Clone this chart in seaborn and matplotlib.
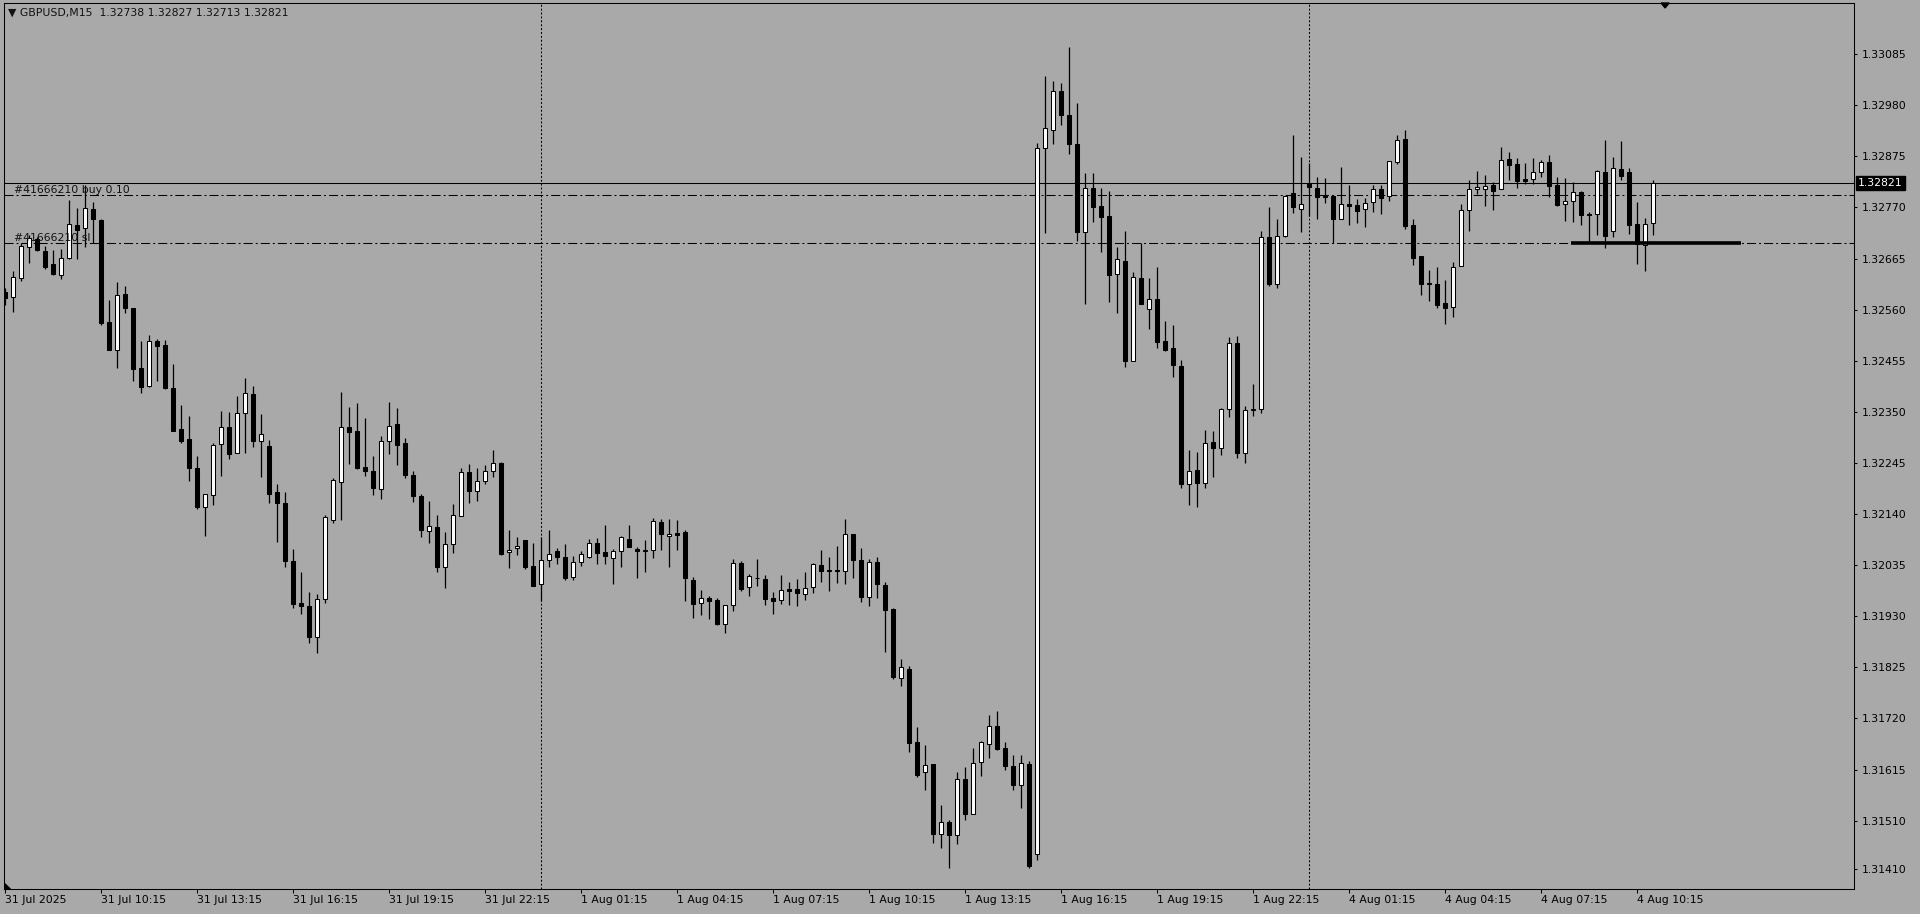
import numpy as np
import pandas as pd
import matplotlib
matplotlib.use("Agg")
import matplotlib.pyplot as plt
import matplotlib.transforms as mtransforms
import seaborn as sns

# GBPUSD M15 candles
opens = [
    1.32597, 1.32585, 1.32625, 1.32688, 1.32706, 1.32680, 1.32653, 1.32632, 1.32667, 1.32733,
    1.32727, 1.32766, 1.32745, 1.32534, 1.32478, 1.32592, 1.32563, 1.32439, 1.32404, 1.32495,
    1.32487, 1.32398, 1.32315, 1.32294, 1.32234, 1.32155, 1.32180, 1.32283, 1.32318, 1.32265,
    1.32347, 1.32387, 1.32291, 1.32280, 1.32185, 1.32162, 1.32043, 1.31957, 1.31951, 1.31887,
    1.31965, 1.32128, 1.32206, 1.32318, 1.32310, 1.32237, 1.32229, 1.32192, 1.32289, 1.32324,
    1.32286, 1.32220, 1.32177, 1.32106, 1.32113, 1.32032, 1.32078, 1.32135, 1.32226, 1.32188,
    1.32207, 1.32229, 1.32245, 1.32061, 1.32070, 1.32086, 1.32033, 1.31996, 1.32045, 1.32065,
    1.32051, 1.32010, 1.32041, 1.32052, 1.32080, 1.32061, 1.32049, 1.32063, 1.32088, 1.32068,
    1.32063, 1.32067, 1.32123, 1.32094, 1.32101, 1.32103, 1.32004, 1.31957, 1.31967, 1.31963,
    1.31915, 1.31954, 1.32039, 1.31991, 1.32009, 1.32006, 1.31967, 1.31963, 1.31986, 1.31986,
    1.31976, 1.31991, 1.32035, 1.32025, 1.32025, 1.32023, 1.32099, 1.32045, 1.31970, 1.32041,
    1.31994, 1.31945, 1.31804, 1.31821, 1.31671, 1.31609, 1.31626, 1.31482, 1.31507, 1.31480,
    1.31595, 1.31524, 1.31630, 1.31667, 1.31704, 1.31659, 1.31622, 1.31583, 1.31626, 1.31441,
    1.32892, 1.32930, 1.33010, 1.32960, 1.32900, 1.32720, 1.32810, 1.32772, 1.32752, 1.32634,
    1.32660, 1.32454, 1.32625, 1.32562, 1.32582, 1.32495, 1.32481, 1.32444, 1.32201, 1.32231,
    1.32204, 1.32287, 1.32275, 1.32355, 1.32491, 1.32265, 1.32354, 1.32355, 1.32709, 1.32613,
    1.32712, 1.32800, 1.32766, 1.32821, 1.32810, 1.32794, 1.32793, 1.32747, 1.32778, 1.32774,
    1.32767, 1.32782, 1.32807, 1.32794, 1.32864, 1.32910, 1.32733, 1.32670, 1.32615, 1.32613,
    1.32573, 1.32566, 1.32649, 1.32764, 1.32807, 1.32808, 1.32817, 1.32808, 1.32869, 1.32859,
    1.32828, 1.32828, 1.32843, 1.32863, 1.32817, 1.32776, 1.32784, 1.32801, 1.32756, 1.32757,
    1.32843, 1.32722, 1.32848, 1.32843, 1.32735, 1.32692, 1.32738,
]
highs = [
    1.32604, 1.32639, 1.32697, 1.32713, 1.32710, 1.32691, 1.32682, 1.32684, 1.32786, 1.32768,
    1.32816, 1.32782, 1.32747, 1.32580, 1.32616, 1.32608, 1.32563, 1.32495, 1.32508, 1.32499,
    1.32497, 1.32448, 1.32364, 1.32341, 1.32259, 1.32182, 1.32285, 1.32351, 1.32350, 1.32382,
    1.32419, 1.32403, 1.32345, 1.32292, 1.32202, 1.32185, 1.32068, 1.32021, 1.31980, 1.31975,
    1.32138, 1.32214, 1.32391, 1.32360, 1.32368, 1.32337, 1.32259, 1.32300, 1.32370, 1.32358,
    1.32296, 1.32228, 1.32181, 1.32167, 1.32138, 1.32103, 1.32161, 1.32234, 1.32243, 1.32234,
    1.32240, 1.32271, 1.32247, 1.32107, 1.32092, 1.32086, 1.32080, 1.32092, 1.32107, 1.32070,
    1.32078, 1.32054, 1.32063, 1.32089, 1.32091, 1.32117, 1.32069, 1.32094, 1.32117, 1.32072,
    1.32086, 1.32131, 1.32129, 1.32129, 1.32128, 1.32107, 1.32010, 1.31984, 1.31971, 1.31967,
    1.31954, 1.32047, 1.32043, 1.32017, 1.32047, 1.32014, 1.31980, 1.32014, 1.32000, 1.32006,
    1.32021, 1.32039, 1.32067, 1.32052, 1.32074, 1.32129, 1.32099, 1.32070, 1.32047, 1.32052,
    1.32000, 1.31947, 1.31842, 1.31828, 1.31702, 1.31665, 1.31626, 1.31542, 1.31511, 1.31610,
    1.31620, 1.31659, 1.31674, 1.31727, 1.31735, 1.31671, 1.31644, 1.31644, 1.31632, 1.32902,
    1.33040, 1.33030, 1.33025, 1.33100, 1.32985, 1.32840, 1.32840, 1.32810, 1.32804, 1.32689,
    1.32722, 1.32638, 1.32697, 1.32624, 1.32648, 1.32536, 1.32529, 1.32456, 1.32271, 1.32268,
    1.32313, 1.32310, 1.32358, 1.32504, 1.32505, 1.32362, 1.32407, 1.32722, 1.32770, 1.32747,
    1.32794, 1.32918, 1.32874, 1.32862, 1.32833, 1.32830, 1.32795, 1.32853, 1.32817, 1.32788,
    1.32789, 1.32816, 1.32817, 1.32865, 1.32919, 1.32929, 1.32746, 1.32670, 1.32641, 1.32647,
    1.32621, 1.32657, 1.32776, 1.32826, 1.32845, 1.32836, 1.32822, 1.32894, 1.32884, 1.32871,
    1.32862, 1.32871, 1.32867, 1.32878, 1.32832, 1.32830, 1.32823, 1.32804, 1.32760, 1.32847,
    1.32908, 1.32873, 1.32906, 1.32851, 1.32781, 1.32748, 1.32827,
]
lows = [
    1.32569, 1.32556, 1.32619, 1.32656, 1.32680, 1.32643, 1.32632, 1.32623, 1.32664, 1.32664,
    1.32688, 1.32696, 1.32528, 1.32477, 1.32441, 1.32554, 1.32414, 1.32389, 1.32402, 1.32414,
    1.32397, 1.32311, 1.32286, 1.32208, 1.32151, 1.32095, 1.32159, 1.32219, 1.32254, 1.32265,
    1.32265, 1.32277, 1.32217, 1.32163, 1.32083, 1.32032, 1.31947, 1.31935, 1.31875, 1.31854,
    1.31958, 1.32121, 1.32128, 1.32243, 1.32233, 1.32218, 1.32180, 1.32171, 1.32264, 1.32241,
    1.32215, 1.32165, 1.32093, 1.32081, 1.32021, 1.31989, 1.32060, 1.32135, 1.32163, 1.32167,
    1.32201, 1.32217, 1.32056, 1.32030, 1.32056, 1.32026, 1.31993, 1.31962, 1.32032, 1.32038,
    1.32005, 1.32005, 1.32034, 1.32050, 1.32038, 1.32038, 1.31997, 1.32032, 1.32072, 1.32009,
    1.32021, 1.32050, 1.32067, 1.32032, 1.32066, 1.31962, 1.31927, 1.31932, 1.31925, 1.31912,
    1.31896, 1.31941, 1.31982, 1.31972, 1.31992, 1.31953, 1.31935, 1.31956, 1.31953, 1.31951,
    1.31964, 1.31978, 1.32000, 1.31982, 1.31998, 1.31997, 1.32008, 1.31960, 1.31950, 1.31968,
    1.31857, 1.31802, 1.31787, 1.31652, 1.31600, 1.31572, 1.31463, 1.31454, 1.31413, 1.31461,
    1.31512, 1.31523, 1.31602, 1.31639, 1.31655, 1.31613, 1.31572, 1.31535, 1.31413, 1.31430,
    1.32718, 1.32900, 1.32940, 1.32880, 1.32700, 1.32572, 1.32740, 1.32678, 1.32575, 1.32554,
    1.32443, 1.32454, 1.32571, 1.32520, 1.32482, 1.32474, 1.32421, 1.32194, 1.32159, 1.32154,
    1.32193, 1.32216, 1.32262, 1.32340, 1.32255, 1.32244, 1.32342, 1.32347, 1.32608, 1.32604,
    1.32709, 1.32758, 1.32719, 1.32752, 1.32746, 1.32780, 1.32696, 1.32747, 1.32734, 1.32738,
    1.32730, 1.32761, 1.32757, 1.32784, 1.32860, 1.32726, 1.32652, 1.32591, 1.32578, 1.32564,
    1.32531, 1.32545, 1.32649, 1.32722, 1.32797, 1.32773, 1.32765, 1.32808, 1.32826, 1.32810,
    1.32819, 1.32819, 1.32833, 1.32792, 1.32773, 1.32743, 1.32740, 1.32734, 1.32697, 1.32713,
    1.32687, 1.32710, 1.32826, 1.32716, 1.32654, 1.32640, 1.32713,
]
closes = [
    1.32583, 1.32626, 1.32690, 1.32708, 1.32682, 1.32647, 1.32634, 1.32667, 1.32735, 1.32724,
    1.32768, 1.32747, 1.32532, 1.32478, 1.32589, 1.32563, 1.32438, 1.32402, 1.32495, 1.32486,
    1.32399, 1.32311, 1.32290, 1.32235, 1.32154, 1.32182, 1.32282, 1.32318, 1.32264, 1.32347,
    1.32388, 1.32289, 1.32304, 1.32182, 1.32163, 1.32044, 1.31956, 1.31950, 1.31887, 1.31965,
    1.32133, 1.32209, 1.32318, 1.32309, 1.32235, 1.32228, 1.32194, 1.32289, 1.32320, 1.32282,
    1.32221, 1.32178, 1.32108, 1.32115, 1.32032, 1.32078, 1.32137, 1.32226, 1.32188, 1.32207,
    1.32229, 1.32244, 1.32058, 1.32067, 1.32074, 1.32032, 1.31993, 1.32045, 1.32057, 1.32051,
    1.32009, 1.32041, 1.32057, 1.32080, 1.32060, 1.32053, 1.32065, 1.32092, 1.32072, 1.32065,
    1.32067, 1.32125, 1.32098, 1.32099, 1.32097, 1.32009, 1.31956, 1.31967, 1.31962, 1.31914,
    1.31954, 1.32039, 1.31986, 1.32012, 1.32008, 1.31966, 1.31962, 1.31984, 1.31982, 1.31978,
    1.31989, 1.32037, 1.32023, 1.32022, 1.32022, 1.32099, 1.32046, 1.31970, 1.32041, 1.31996,
    1.31943, 1.31806, 1.31825, 1.31670, 1.31604, 1.31624, 1.31482, 1.31508, 1.31480, 1.31595,
    1.31524, 1.31629, 1.31671, 1.31704, 1.31657, 1.31623, 1.31584, 1.31628, 1.31417, 1.32892,
    1.32933, 1.33010, 1.32960, 1.32900, 1.32720, 1.32810, 1.32770, 1.32750, 1.32632, 1.32663,
    1.32455, 1.32626, 1.32571, 1.32582, 1.32494, 1.32478, 1.32447, 1.32201, 1.32229, 1.32204,
    1.32285, 1.32275, 1.32355, 1.32491, 1.32265, 1.32353, 1.32356, 1.32709, 1.32613, 1.32712,
    1.32794, 1.32770, 1.32777, 1.32811, 1.32792, 1.32792, 1.32747, 1.32778, 1.32773, 1.32763,
    1.32780, 1.32807, 1.32790, 1.32865, 1.32908, 1.32732, 1.32667, 1.32613, 1.32613, 1.32570,
    1.32564, 1.32647, 1.32764, 1.32807, 1.32811, 1.32815, 1.32804, 1.32867, 1.32858, 1.32825,
    1.32825, 1.32842, 1.32863, 1.32814, 1.32775, 1.32784, 1.32801, 1.32755, 1.32755, 1.32844,
    1.32712, 1.32850, 1.32835, 1.32734, 1.32694, 1.32735, 1.32821,
]

# bar times (market closed over the weekend)
bar_times = list(pd.date_range("2025-07-31 07:15", "2025-08-01 23:45", freq="15min")) + \
    list(pd.date_range("2025-08-04 00:00", "2025-08-04 10:45", freq="15min"))

x_labels = ["31 Jul 2025", "31 Jul 10:15", "31 Jul 13:15", "31 Jul 16:15", "31 Jul 19:15",
            "31 Jul 22:15", "1 Aug 01:15", "1 Aug 04:15", "1 Aug 07:15", "1 Aug 10:15",
            "1 Aug 13:15", "1 Aug 16:15", "1 Aug 19:15", "1 Aug 22:15", "4 Aug 01:15",
            "4 Aug 04:15", "4 Aug 07:15", "4 Aug 10:15"]
y_labels = ["1.33085", "1.32980", "1.32875", "1.32770", "1.32665", "1.32560", "1.32455",
            "1.32350", "1.32245", "1.32140", "1.32035", "1.31930", "1.31825", "1.31720",
            "1.31615", "1.31510", "1.31410"]

header = "\u25BC GBPUSD,M15  1.32738 1.32827 1.32713 1.32821"
bid = 1.32821
order_text = "#41666210 buy 0.10"
order_price = 1.32795
sl_text = "#41666210 sl"
sl_price = 1.32697
# hand drawn line on the chart (bar positions)
drawn_line_bars = [195.7, 217.0]
drawn_line_price = 1.32697

BG = "#a9a9a9"

sns.set_theme(style="white", rc={
    "axes.facecolor": BG, "figure.facecolor": BG, "axes.edgecolor": "black",
    "axes.linewidth": 0.75, "lines.scale_dashes": False,
})
plt.rcParams["font.family"] = ["DejaVu Sans"]

df = pd.DataFrame({"open": opens, "high": highs, "low": lows, "close": closes})
df["bar"] = np.arange(len(df))
df["bull"] = df["close"] > df["open"]
df["bottom"] = df[["open", "close"]].min(axis=1)
df["height"] = (df["close"] - df["open"]).abs()

fig = plt.figure(figsize=(19.2, 9.14), dpi=100)
ax = fig.add_axes([4 / 1920, 25 / 914, 1850 / 1920, 886 / 914])
ax.set_facecolor(BG)

# lines behind the candles
ax.axhline(bid, color="black", lw=0.75, zorder=1)
ax.axhline(order_price, color="black", lw=0.75, ls=(0, (6.5, 2.2, 1.4, 2.2)), zorder=1)
ax.axhline(sl_price, color="black", lw=0.75, ls=(0, (6.5, 2.2, 1.4, 2.2)), zorder=1)
for i, t in enumerate(bar_times):
    if t.hour == 0 and t.minute == 0 and i > 0:
        ax.axvline(i, color="black", lw=0.75, ls=(0, (1.4, 1.4)), zorder=1)

# candles
ax.vlines(df["bar"], df["low"], df["high"], color="black", lw=0.9, zorder=2)
ax.bar(df["bar"], df["height"], bottom=df["bottom"], width=0.55,
       color=np.where(df["bull"], "white", "black"), edgecolor="black",
       linewidth=0.75, zorder=3)

ax.plot(drawn_line_bars, [drawn_line_price] * 2, color="black", lw=2.6,
        solid_capstyle="butt", zorder=4)

ax.set_xlim(-0.16, 231.09)
ax.set_ylim(1.313695, 1.33190)

ax.set_xticks(range(0, len(bar_times), 12))
ax.set_xticklabels(x_labels, ha="left")
ax.yaxis.tick_right()
ax.set_yticks([float(s) for s in y_labels])
ax.set_yticklabels(y_labels)
ax.tick_params(axis="x", direction="out", length=3, width=0.75, pad=1.5,
               labelsize=7.8, colors="black", bottom=True)
ax.tick_params(axis="y", direction="out", length=2.3, width=0.75, pad=3,
               labelsize=7.8, colors="black", right=True, left=False)
for s in ax.spines.values():
    s.set_visible(True)
    s.set_color("black")
    s.set_linewidth(0.75)

txt = dict(fontsize=7.8, color="#111111")
ax.text(0.0022, 0.9887, header, transform=ax.transAxes, va="center", ha="left", **txt)
trans = mtransforms.blended_transform_factory(ax.transAxes, ax.transData)
ax.text(0.0054, order_price, order_text, transform=trans, va="bottom", ha="left", **txt)
ax.text(0.0054, sl_price, sl_text, transform=trans, va="bottom", ha="left", **txt)

# current price tag on the right scale
ax.text(1.0022, bid, f"{bid:.5f}", transform=trans, va="center", ha="left",
        fontsize=7.8, color="white", clip_on=False,
        bbox=dict(boxstyle="square,pad=0.18", fc="black", ec="black"))

# small markers: chart shift and corner
ax.fill([0.8957, 0.9001, 0.8979], [1.0, 1.0, 0.9944], color="black",
        transform=ax.transAxes, clip_on=False, zorder=5)
ax.fill([0, 0.0034, 0], [0, 0, 0.0068], color="black", transform=ax.transAxes, zorder=5)

fig.savefig("out.png", dpi=100, facecolor=BG)
